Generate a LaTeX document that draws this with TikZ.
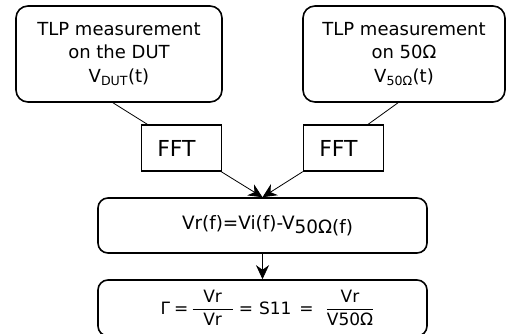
\documentclass[tikz,border=0pt]{standalone}
\usepackage{amsmath}
\usepackage{fontspec}
\setmainfont{DejaVu Sans}
\usetikzlibrary{arrows.meta}

\tikzset{
  meas/.style={draw, line width=1.6pt, rounded corners=12pt, align=center,
    minimum width=206pt, minimum height=96pt},
  fftbox/.style={draw, line width=1.2pt, minimum width=80pt, minimum height=46pt,
    font=\fontsize{22}{26}\selectfont},
  calcbox/.style={draw, line width=1.6pt, rounded corners=10pt,
    minimum width=329pt, minimum height=55pt},
  arr/.style={-{Stealth[length=14pt, width=13pt]}, line width=0.8pt}
}

\begin{document}
\begin{tikzpicture}[x=1pt, y=-1pt, font=\fontsize{18}{23.5}\selectfont]
  \useasboundingbox (0,0) rectangle (506,333);
  \node[meas] (dut) at (119,54) {TLP measurement\\on the DUT\\V\textsubscript{DUT}(t)};
  \node[meas, minimum width=202pt] (ref) at (404,54) {TLP measurement\\on 50Ω\\V\textsubscript{50Ω}(t)};
  \node[fftbox] (fftdut) at (181.5,148) {FFT\hspace*{10pt}};
  \node[fftbox] (fftref) at (343.5,148) {FFT\hspace*{10pt}};
  \node[calcbox, font=\fontsize{18.4}{22}\selectfont] (vr) at (262.5,225.5)
    {\hspace*{10pt}Vr(f)=Vi(f)-V\raisebox{-4pt}{50Ω(f)}};
  % gamma = S11
  \node[calcbox, minimum height=56pt, font=\fontsize{17}{20}\selectfont] (gamma) at (262.5,308)
    {\hspace*{10pt}$\text{Γ}\hspace{4pt}\text{=}\hspace{3pt}\dfrac{\hspace{10.7pt}\text{Vr}\hspace{10.7pt}}{\text{Vr}}\hspace{5pt}\text{=}\hspace{6pt}\text{S11}\hspace{8pt}\text{=}\hspace{12pt}\dfrac{\hspace{3.5pt}\text{Vr}\hspace{3.5pt}}{\text{V50Ω}}$};
  \draw[line width=0.8pt] ([xshift=-6pt]dut.south) -- ([xshift=-34pt]fftdut.north);
  \draw[line width=0.8pt] ([xshift=-6pt]ref.south) -- ([xshift=24.5pt]fftref.north);
  \draw[arr] ([xshift=-1pt]fftdut.south east) -- (vr.north);
  \draw[arr] (fftref.south west) -- (vr.north);
  \draw[arr] (vr.south) -- (gamma.north);
\end{tikzpicture}
\end{document}
